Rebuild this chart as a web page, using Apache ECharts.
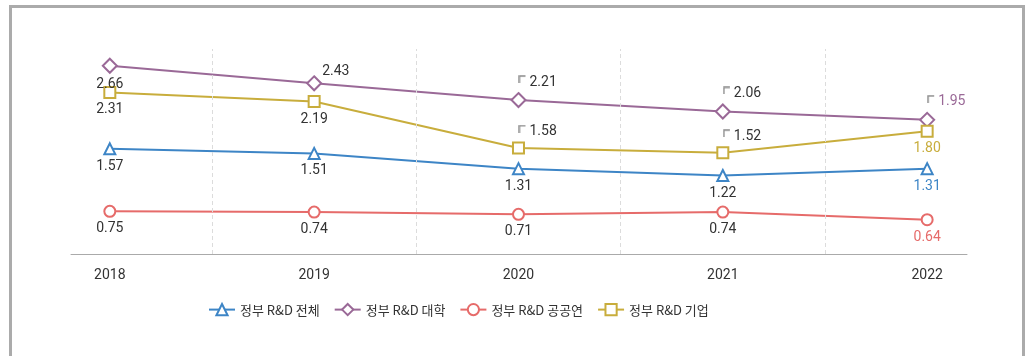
<!DOCTYPE html>
<html>
<head>
<meta charset="utf-8">
<script src="https://cdn.jsdelivr.net/npm/echarts@6/dist/echarts.min.js"></script>
<style>
  body { margin: 0; background: #fff; }
  #wrap { position: relative; width: 1030px; height: 356px; }
  #frame { position: absolute; left: 9px; top: 5px; width: 1010px; height: 360px;
           border: 3px solid #ababab; border-bottom: none; }
  #main { position: absolute; left: 0; top: 0; width: 1030px; height: 356px; }
</style>
</head>
<body>
<div id="wrap">
  <div id="frame"></div>
  <div id="main"></div>
</div>
<script>
// data
var years = [2018, 2019, 2020, 2021, 2022];
var totalData = [1.57, 1.51, 1.31, 1.22, 1.31];   // 정부 R&D 전체
var univData = [2.66, 2.43, 2.21, 2.06, 1.95];    // 정부 R&D 대학
var publicData = [0.75, 0.74, 0.71, 0.74, 0.64];  // 정부 R&D 공공연
var corpData = [2.31, 2.19, 1.58, 1.52, 1.80];    // 정부 R&D 기업
var dividers = [2018.5, 2019.5, 2020.5, 2021.5];

var chart = echarts.init(document.getElementById('main'));

var textColor = '#333';
var labelFont = 'Roboto, "Noto Sans CJK KR", sans-serif';

//small corner mark drawn once, used as label background
var corner = document.createElement('canvas');
corner.width = 8;
corner.height = 8;
(function(){
    let ctx = corner.getContext('2d');
    ctx.strokeStyle = '#8c8c8c';
    ctx.lineWidth = 1.4;
    ctx.beginPath();
    ctx.moveTo(1, 8);
    ctx.lineTo(1, 1);
    ctx.lineTo(7, 1);
    ctx.stroke();
})();

//build one label per point
let makeLabel = function(kind, color, isLast){
    let base = {
        show: true,
        fontSize: 14,
        fontFamily: labelFont,
        color: isLast ? color : textColor
    };
    if (kind == 'bottom'){
        base.position = 'bottom';
        base.distance = 4;
        base.formatter = function(p){ return p.value[1].toFixed(2); };
    }
    else if (kind == 'right'){
        base.position = 'right';
        base.distance = 0;
        base.offset = [0, -12];
        base.formatter = function(p){ return p.value[1].toFixed(2); };
    }
    else {
        //little corner tick before the number
        base.position = 'top';
        base.align = 'left';
        base.distance = 3;
        base.formatter = function(p){ return '{b| }{v|' + p.value[1].toFixed(2) + '}'; };
        base.rich = {
            b: { backgroundColor: { image: corner }, width: 8, height: 8, verticalAlign: 'top' },
            v: { fontSize: 14, fontFamily: labelFont, color: isLast ? color : textColor, padding: [0, 0, 0, 3] }
        };
    }
    return base;
};

let makeSeries = function(name, values, color, symbol, size, kinds){
    return {
        name: name,
        type: 'line',
        symbol: symbol,
        symbolSize: size,
        showAllSymbol: true,
        lineStyle: { color: color, width: 2 },
        itemStyle: { color: color, borderColor: color, borderWidth: 2 },
        z: 3,
        data: values.map(function(v, i){
            return {
                value: [years[i], v],
                label: makeLabel(kinds[i], color, i == values.length - 1)
            };
        })
    };
};

var blue = '#3d85c6';
var purple = '#9a6997';
var red = '#e66b6a';
var yellow = '#c8ad3c';

var seriesList = [
    makeSeries('정부 R&D 전체', totalData, blue, 'emptyTriangle', 11,
        ['bottom', 'bottom', 'bottom', 'bottom', 'bottom']),
    makeSeries('정부 R&D 대학', univData, purple, 'emptyDiamond', 14,
        ['bottom', 'right', 'tag', 'tag', 'tag']),
    makeSeries('정부 R&D 공공연', publicData, red, 'emptyCircle', 11,
        ['bottom', 'bottom', 'bottom', 'bottom', 'bottom']),
    makeSeries('정부 R&D 기업', corpData, yellow, 'emptyRect', 11,
        ['bottom', 'bottom', 'tag', 'tag', 'bottom'])
];

//dashed dividers between the years
seriesList[0].markLine = {
    silent: true,
    symbol: ['none', 'none'],
    label: { show: false },
    lineStyle: { type: [4, 3], color: '#dcdcdc', width: 1 },
    data: dividers.map(function(d){ return { xAxis: d }; })
};

var option = {
    animation: false,
    backgroundColor: 'transparent',
    grid: { left: 71, right: 63, top: 49, bottom: 102 },
    legend: {
        left: 203,
        top: 298,
        itemWidth: 26,
        itemHeight: 14,
        itemGap: 14,
        textStyle: { fontSize: 13, color: textColor, fontFamily: '"Noto Sans CJK KR", sans-serif' },
        data: seriesList.map(function(s){ return s.name; })
    },
    xAxis: {
        type: 'value',
        min: 2017.81,
        max: 2022.195,
        axisLine: { show: true, lineStyle: { color: '#aaaaaa', width: 1 } },
        axisTick: { show: false },
        splitLine: { show: false },
        axisLabel: {
            customValues: years,
            margin: 15,
            fontSize: 14,
            color: textColor,
            fontFamily: labelFont,
            formatter: function(v){ return String(v); }
        }
    },
    yAxis: {
        type: 'value',
        min: 0.19,
        max: 2.88,
        show: false
    },
    series: seriesList
};

chart.setOption(option);
</script>
</body>
</html>
